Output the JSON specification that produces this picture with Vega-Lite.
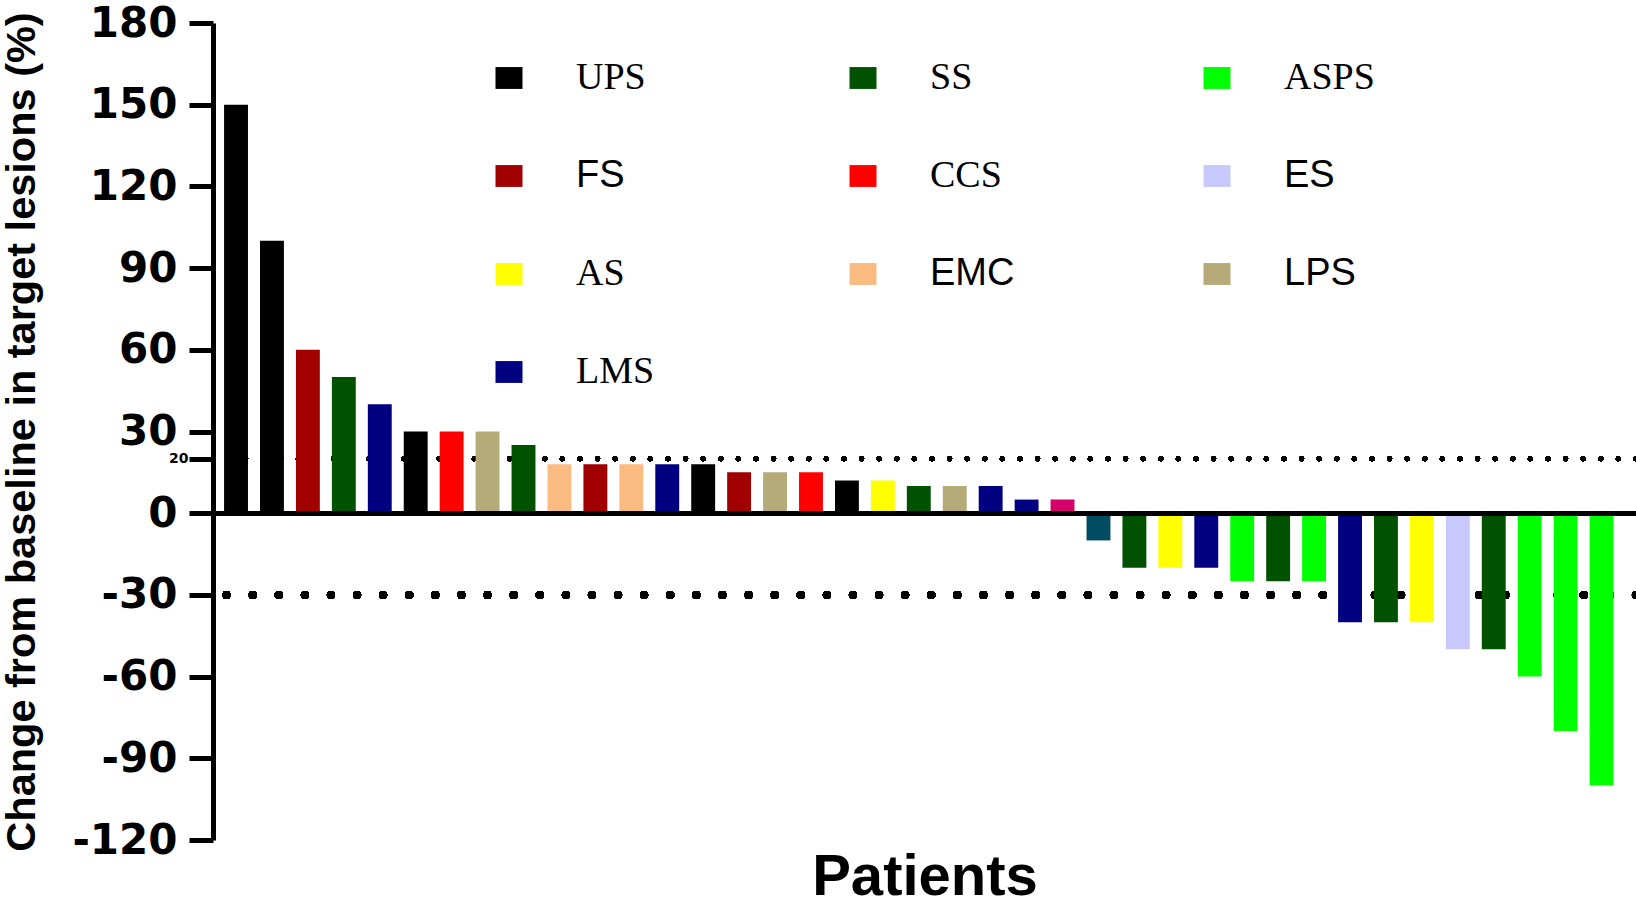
{
  "$schema": "https://vega.github.io/schema/vega-lite/v6.json",
  "width": 1423,
  "height": 817,
  "autosize": {"type": "none"},
  "padding": {"left": 213, "top": 23, "right": 0, "bottom": 61},
  "background": "white",
  "data": {
    "values": [
      {"patient": 1, "type": "UPS", "change": 150},
      {"patient": 2, "type": "UPS", "change": 100},
      {"patient": 3, "type": "FS", "change": 60},
      {"patient": 4, "type": "SS", "change": 50},
      {"patient": 5, "type": "LMS", "change": 40},
      {"patient": 6, "type": "UPS", "change": 30},
      {"patient": 7, "type": "CCS", "change": 30},
      {"patient": 8, "type": "LPS", "change": 30},
      {"patient": 9, "type": "SS", "change": 25},
      {"patient": 10, "type": "EMC", "change": 18},
      {"patient": 11, "type": "FS", "change": 18},
      {"patient": 12, "type": "EMC", "change": 18},
      {"patient": 13, "type": "LMS", "change": 18},
      {"patient": 14, "type": "UPS", "change": 18},
      {"patient": 15, "type": "FS", "change": 15},
      {"patient": 16, "type": "LPS", "change": 15},
      {"patient": 17, "type": "CCS", "change": 15},
      {"patient": 18, "type": "UPS", "change": 12},
      {"patient": 19, "type": "AS", "change": 12},
      {"patient": 20, "type": "SS", "change": 10},
      {"patient": 21, "type": "LPS", "change": 10},
      {"patient": 22, "type": "LMS", "change": 10},
      {"patient": 23, "type": "LMS", "change": 5},
      {"patient": 24, "type": "Unlisted 1", "change": 5},
      {"patient": 25, "type": "Unlisted 2", "change": -10},
      {"patient": 26, "type": "SS", "change": -20},
      {"patient": 27, "type": "AS", "change": -20},
      {"patient": 28, "type": "LMS", "change": -20},
      {"patient": 29, "type": "ASPS", "change": -25},
      {"patient": 30, "type": "SS", "change": -25},
      {"patient": 31, "type": "ASPS", "change": -25},
      {"patient": 32, "type": "LMS", "change": -40},
      {"patient": 33, "type": "SS", "change": -40},
      {"patient": 34, "type": "AS", "change": -40},
      {"patient": 35, "type": "ES", "change": -50},
      {"patient": 36, "type": "SS", "change": -50},
      {"patient": 37, "type": "ASPS", "change": -60},
      {"patient": 38, "type": "ASPS", "change": -80},
      {"patient": 39, "type": "ASPS", "change": -100}
    ]
  },
  "layer": [
    {
      "mark": {"type": "rule", "color": "black", "strokeWidth": 5, "strokeCap": "round", "strokeDash": [0.1, 17.5]},
      "encoding": {"y": {"datum": 20}}
    },
    {
      "mark": {"type": "rule", "color": "black", "strokeWidth": 8, "strokeCap": "round", "strokeDash": [0.1, 26]},
      "encoding": {"y": {"datum": -30}}
    },
    {
      "mark": {"type": "bar"},
      "encoding": {
        "x": {
          "field": "patient",
          "type": "ordinal",
          "scale": {"paddingInner": 0.335, "paddingOuter": 0.467, "align": 0.33},
          "axis": {
            "title": "Patients",
            "labels": false,
            "ticks": false,
            "domain": false,
            "titleFont": "Liberation Sans",
            "titleFontWeight": "bold",
            "titleFontSize": 58,
            "titleColor": "black",
            "titlePadding": 8
          }
        },
        "y": {
          "field": "change",
          "type": "quantitative",
          "scale": {"domain": [-120, 180], "nice": false, "zero": false},
          "axis": {
            "title": "Change from baseline in target lesions  (%)",
            "values": [-120, -90, -60, -30, 0, 20, 30, 60, 90, 120, 150, 180],
            "labelExpr": "datum.value < 0 ? '-' + abs(datum.value) : '' + datum.value",
            "labelOverlap": false,
            "labelFlush": false,
            "grid": false,
            "domainColor": "black",
            "domainWidth": 5,
            "tickColor": "black",
            "tickWidth": 5,
            "tickSize": 24,
            "labelFont": "DejaVu Sans",
            "labelFontWeight": "bold",
            "labelColor": "black",
            "labelFontSize": {"condition": {"test": "datum.value == 20", "value": 14}, "value": 42},
            "labelPadding": {"condition": {"test": "datum.value == 20", "value": 1}, "value": 12},
            "titleFont": "Liberation Sans",
            "titleFontWeight": "bold",
            "titleFontSize": 41.5,
            "titleColor": "black",
            "titlePadding": 28
          }
        },
        "color": {
          "field": "type",
          "type": "nominal",
          "scale": {
            "domain": ["UPS", "FS", "AS", "LPS", "SS", "CCS", "EMC", "LMS", "ASPS", "ES", "Unlisted 1", "Unlisted 2"],
            "range": ["#000000", "#a00000", "#ffff00", "#b6aa78", "#005200", "#ff0000", "#f9bb80", "#000080", "#00ff00", "#c8c8ff", "#d6006a", "#004c63"]
          },
          "legend": {
            "title": null,
            "values": ["UPS", "FS", "AS", "LPS", "SS", "CCS", "EMC", "LMS", "ASPS", "ES"],
            "orient": "none",
            "legendX": 277,
            "legendY": 36,
            "padding": 0,
            "columns": 3,
            "gridAlign": "all",
            "columnPadding": 177,
            "rowPadding": 60,
            "symbolType": "M-1,-0.81H1V0.81H-1Z",
            "symbolSize": 729,
            "symbolStrokeWidth": 0,
            "symbolOpacity": 1,
            "labelFontSize": 38,
            "labelFont": {"expr": "indexof(['FS','EMC','ES','LPS'], datum.label) >= 0 ? 'Liberation Sans' : 'Liberation Serif'"},
            "labelColor": "black",
            "labelOffset": 48,
            "labelLimit": 300
          }
        }
      }
    },
    {
      "mark": {"type": "rule", "color": "black", "strokeWidth": 4},
      "encoding": {"y": {"datum": 0}}
    }
  ],
  "config": {
    "view": {"stroke": null}
  }
}
